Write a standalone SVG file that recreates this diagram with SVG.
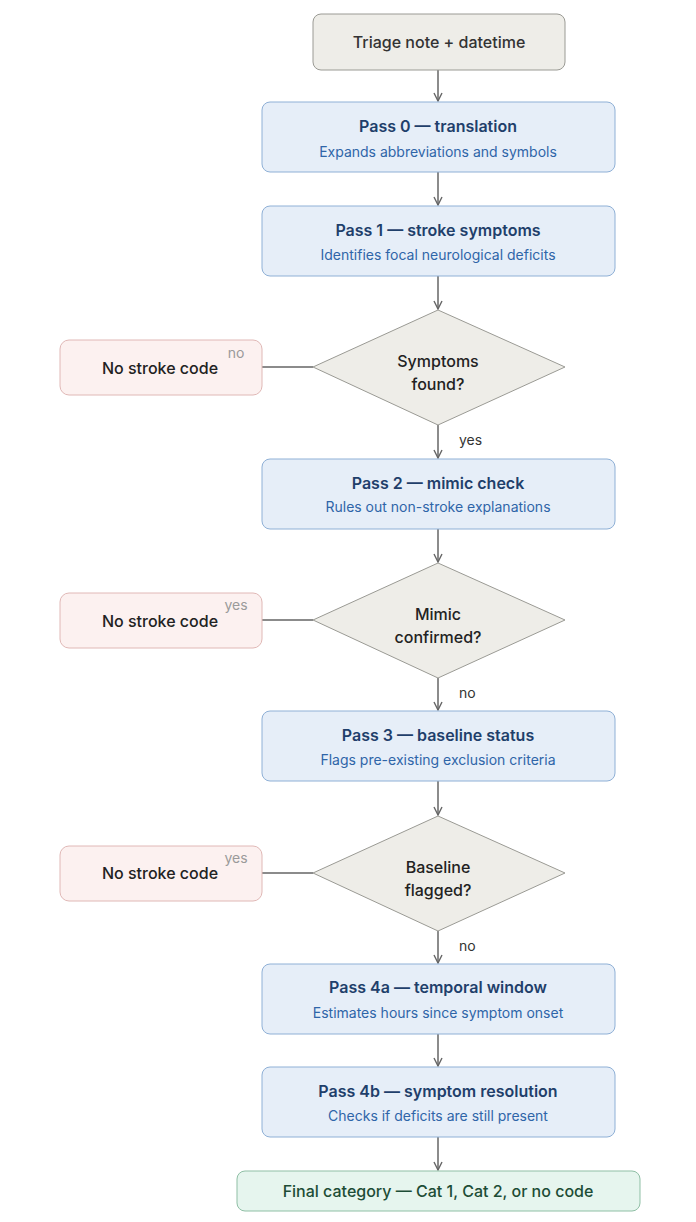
<svg xmlns="http://www.w3.org/2000/svg" width="696" height="1222" viewBox="0 0 696 1222">
<defs>
<marker id="ah" viewBox="0 0 10 10" refX="9" refY="5" markerWidth="10" markerHeight="10" markerUnits="userSpaceOnUse" orient="auto"><path d="M1,1 L9,5 L1,9" fill="none" stroke="#666" stroke-width="1.4"/></marker>
<style>
text{font-family:Inter,"Liberation Sans",sans-serif;text-anchor:middle}
.pass rect{fill:#e6eef8;stroke:#8fb0d6;stroke-width:1}
.t{font-size:16px;font-weight:600;fill:#1f3f6b}
.s{font-size:14px;fill:#2f65a8}
.dec polygon{fill:#eeede8;stroke:#9a9a94;stroke-width:1}
.d{font-size:16px;font-weight:500;fill:#222}
.no rect{fill:#fcf1f0;stroke:#e0b8b6;stroke-width:1}
.n{font-size:16px;font-weight:500;fill:#222}
.lbl{font-size:14px;fill:#333;text-anchor:start}
.lbl2{font-size:14px;fill:#9a9a9a;text-anchor:middle}
.c{stroke:#666;stroke-width:1.5;fill:none}
</style>
</defs>
<g id="connectors">
<path class="c" d="M438,70 V101" marker-end="url(#ah)"/>
<path class="c" d="M438,172 V205" marker-end="url(#ah)"/>
<path class="c" d="M438,276 V309" marker-end="url(#ah)"/>
<path class="c" d="M438,425 V458" marker-end="url(#ah)"/>
<path class="c" d="M438,529 V562" marker-end="url(#ah)"/>
<path class="c" d="M438,678 V710" marker-end="url(#ah)"/>
<path class="c" d="M438,781 V815" marker-end="url(#ah)"/>
<path class="c" d="M438,931 V963" marker-end="url(#ah)"/>
<path class="c" d="M438,1034 V1066" marker-end="url(#ah)"/>
<path class="c" d="M438,1137 V1170" marker-end="url(#ah)"/>
<path class="c" d="M313,367 H262 M313,620 H262 M313,873 H262"/>
<path d="M262,367 H230 M262,620 H230 M262,873 H230" stroke="#c9a9a8" stroke-width="1.5"/>
<text class="lbl" x="459" y="445">yes</text>
<text class="lbl" x="459" y="698">no</text>
<text class="lbl" x="459" y="951">no</text>
</g>
<g id="start"><rect x="313" y="14" width="252" height="56" rx="8" fill="#eeede8" stroke="#9a9a94"/><text x="439" y="48" style="font-size:16px;font-weight:500;fill:#333">Triage note + datetime</text></g>
<g id="pass0" class="pass"><rect x="262" y="102" width="353" height="70" rx="8"/><text class="t" x="438" y="132">Pass 0 — translation</text><text class="s" x="438" y="157">Expands abbreviations and symbols</text></g>
<g id="pass1" class="pass"><rect x="262" y="206" width="353" height="70" rx="8"/><text class="t" x="438" y="236">Pass 1 — stroke symptoms</text><text class="s" x="438" y="260">Identifies focal neurological deficits</text></g>
<g id="dec1" class="dec"><polygon points="438,310 565,367 438,425 313,367"/><text class="d" x="438" y="367">Symptoms</text><text class="d" x="438" y="390">found?</text></g>
<g id="no1" class="no"><rect x="60" y="340" width="202" height="55" rx="9"/><text class="n" x="160" y="374">No stroke code</text><text class="lbl2" x="236" y="358">no</text></g>
<g id="pass2" class="pass"><rect x="262" y="459" width="353" height="70" rx="8"/><text class="t" x="438" y="489">Pass 2 — mimic check</text><text class="s" x="438" y="512">Rules out non-stroke explanations</text></g>
<g id="dec2" class="dec"><polygon points="438,563 565,620 438,678 313,620"/><text class="d" x="438" y="620">Mimic</text><text class="d" x="438" y="643">confirmed?</text></g>
<g id="no2" class="no"><rect x="60" y="593" width="202" height="55" rx="9"/><text class="n" x="160" y="627">No stroke code</text><text class="lbl2" x="236" y="610">yes</text></g>
<g id="pass3" class="pass"><rect x="262" y="711" width="353" height="70" rx="8"/><text class="t" x="438" y="741">Pass 3 — baseline status</text><text class="s" x="438" y="765">Flags pre-existing exclusion criteria</text></g>
<g id="dec3" class="dec"><polygon points="438,816 565,873 438,931 313,873"/><text class="d" x="438" y="873">Baseline</text><text class="d" x="438" y="896">flagged?</text></g>
<g id="no3" class="no"><rect x="60" y="846" width="202" height="55" rx="9"/><text class="n" x="160" y="879">No stroke code</text><text class="lbl2" x="236" y="863">yes</text></g>
<g id="pass4a" class="pass"><rect x="262" y="964" width="353" height="70" rx="8"/><text class="t" x="438" y="993">Pass 4a — temporal window</text><text class="s" x="438" y="1018">Estimates hours since symptom onset</text></g>
<g id="pass4b" class="pass"><rect x="262" y="1067" width="353" height="70" rx="8"/><text class="t" x="438" y="1097">Pass 4b — symptom resolution</text><text class="s" x="438" y="1121">Checks if deficits are still present</text></g>
<g id="final"><rect x="237" y="1171" width="403" height="40" rx="8" fill="#e6f5ee" stroke="#8fbfa5"/><text x="438" y="1197" style="font-size:16px;font-weight:500;fill:#1d4d36">Final category — Cat 1, Cat 2, or no code</text></g>
</svg>
